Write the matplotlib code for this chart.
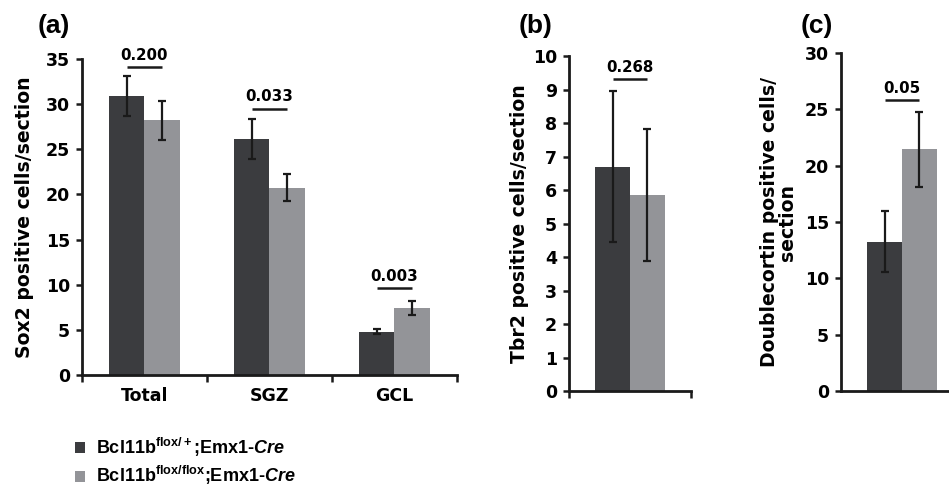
import numpy as np
import matplotlib
matplotlib.use('Agg')
import matplotlib.pyplot as plt
from matplotlib.ticker import FixedLocator, NullFormatter, FixedFormatter

plt.rcParams.update({
    'font.family': 'DejaVu Sans',
    'font.weight': 'bold',
    'axes.labelweight': 'bold',
    'mathtext.fontset': 'custom',
    'mathtext.rm': 'Liberation Sans:bold',
    'mathtext.bf': 'Liberation Sans:bold',
    'mathtext.it': 'Liberation Sans:bold:italic',
})

# ---- data ----
sox2_groups = ['Total', 'SGZ', 'GCL']
sox2_het = [30.9, 26.1, 4.8]
sox2_het_err = [2.2, 2.2, 0.3]
sox2_ko = [28.2, 20.75, 7.45]
sox2_ko_err = [2.2, 1.5, 0.8]
sox2_p = ['0.200', '0.033', '0.003']
sox2_p_y = [34.1, 29.5, 9.6]

tbr2_het, tbr2_het_err = 6.7, 2.25
tbr2_ko, tbr2_ko_err = 5.85, 1.97
tbr2_p, tbr2_p_y = '0.268', 9.3

dcx_het, dcx_het_err = 13.25, 2.7
dcx_ko, dcx_ko_err = 21.45, 3.3
dcx_p, dcx_p_y = '0.05', 25.8

legend_labels = [r'Bcl11b$^{\mathrm{flox/+}}$;Emx1-$\mathit{Cre}$',
                 r'Bcl11b$^{\mathrm{flox/flox}}$;Emx1-$\mathit{Cre}$']

DARK = '#3b3c3f'
LIGHT = '#939498'
W = 0.285
TICK_FS = 12.5
YLAB_FS = 13.6


def style_axes(ax, ylim, yticks):
    for s in ['top', 'right']:
        ax.spines[s].set_visible(False)
    for s in ['left', 'bottom']:
        ax.spines[s].set_linewidth(2)
        ax.spines[s].set_color('#1a1a1a')
    ax.set_ylim(*ylim)
    ax.set_yticks(yticks)
    ax.tick_params(axis='y', length=4.5, width=1.8, labelsize=TICK_FS, pad=4, color='#1a1a1a')
    ax.tick_params(axis='x', which='major', length=5, width=1.8, color='#1a1a1a')
    for lab in ax.get_yticklabels():
        lab.set_fontweight('bold')


def pair(ax, x, het, het_err, ko, ko_err, p, py):
    b1 = ax.bar(x - W / 2, het, W, color=DARK)
    b2 = ax.bar(x + W / 2, ko, W, color=LIGHT)
    ax.errorbar(np.asarray(x) - W / 2, het, yerr=het_err, fmt='none',
                ecolor='#1a1a1a', elinewidth=1.6, capsize=3, capthick=1.6)
    ax.errorbar(np.asarray(x) + W / 2, ko, yerr=ko_err, fmt='none',
                ecolor='#1a1a1a', elinewidth=1.6, capsize=3, capthick=1.6)
    xs = np.atleast_1d(x)
    for xi, pi, yi in zip(xs, np.atleast_1d(p), np.atleast_1d(py)):
        ax.plot([xi - W / 2, xi + W / 2], [yi, yi], color='#1a1a1a', lw=1.8,
                solid_capstyle='butt', clip_on=False)
        ax.annotate(pi, (xi, yi), xytext=(0, 3), textcoords='offset points',
                    ha='center', va='bottom', fontsize=10.8, fontweight='bold',
                    annotation_clip=False)
    return b1, b2


fig = plt.figure(figsize=(9.49, 4.87), dpi=100)

# (a) Sox2
ax1 = fig.add_axes([0.0864, 0.2300, 0.3951, 0.6489])
x = np.arange(len(sox2_groups))
b1, b2 = pair(ax1, x, sox2_het, sox2_het_err, sox2_ko, sox2_ko_err, sox2_p, sox2_p_y)
ax1.set_xlim(-0.5, 2.5)
style_axes(ax1, (0, 35), range(0, 36, 5))
ax1.xaxis.set_major_locator(FixedLocator([-0.5, 0.5, 1.5, 2.5]))
ax1.xaxis.set_major_formatter(NullFormatter())
ax1.xaxis.set_minor_locator(FixedLocator(x))
ax1.xaxis.set_minor_formatter(FixedFormatter(sox2_groups))
ax1.tick_params(axis='x', which='minor', length=0, pad=9, labelsize=12.5)
ax1.set_ylabel('Sox2 positive cells/section', fontsize=YLAB_FS, fontweight='bold')
ax1.yaxis.set_label_coords(-0.128, 0.5)

# (b) Tbr2
ax2 = fig.add_axes([0.5996, 0.1971, 0.1286, 0.6879])
pair(ax2, 0.0, tbr2_het, tbr2_het_err, tbr2_ko, tbr2_ko_err, tbr2_p, tbr2_p_y)
ax2.set_xlim(-0.5, 0.5)
style_axes(ax2, (0, 10), range(0, 11))
ax2.set_xticks([-0.5, 0.5])
ax2.set_xticklabels([])
ax2.set_ylabel('Tbr2 positive cells/section', fontsize=YLAB_FS, fontweight='bold')
ax2.yaxis.set_label_coords(-0.33, 0.5)

# (c) Doublecortin
ax3 = fig.add_axes([0.8862, 0.1971, 0.1138, 0.6940])
pair(ax3, 0.0, dcx_het, dcx_het_err, dcx_ko, dcx_ko_err, dcx_p, dcx_p_y)
ax3.set_xlim(-0.5, -0.5 + 108 / 122)
style_axes(ax3, (0, 30), range(0, 31, 5))
ax3.set_xticks([])
ax3.set_ylabel('Doublecortin positive cells/\nsection', fontsize=YLAB_FS,
               fontweight='bold', linespacing=0.95)
ax3.yaxis.set_label_coords(-0.405, 0.5)

# panel letters
for xp, letter in [(0.057, '(a)'), (0.564, '(b)'), (0.861, '(c)')]:
    fig.text(xp, 0.947, letter, family='Liberation Sans', fontsize=19,
             fontweight='bold', ha='center', va='center')

fig.legend([b1, b2], legend_labels, loc='upper left',
           bbox_to_anchor=(0.079, 0.105), frameon=False,
           prop={'family': 'Liberation Sans', 'weight': 'bold', 'size': 13},
           handlelength=0.57, handleheight=0.57, handletextpad=0.6,
           labelspacing=0.3, borderpad=0, borderaxespad=0)

fig.savefig('out.png', dpi=100)
